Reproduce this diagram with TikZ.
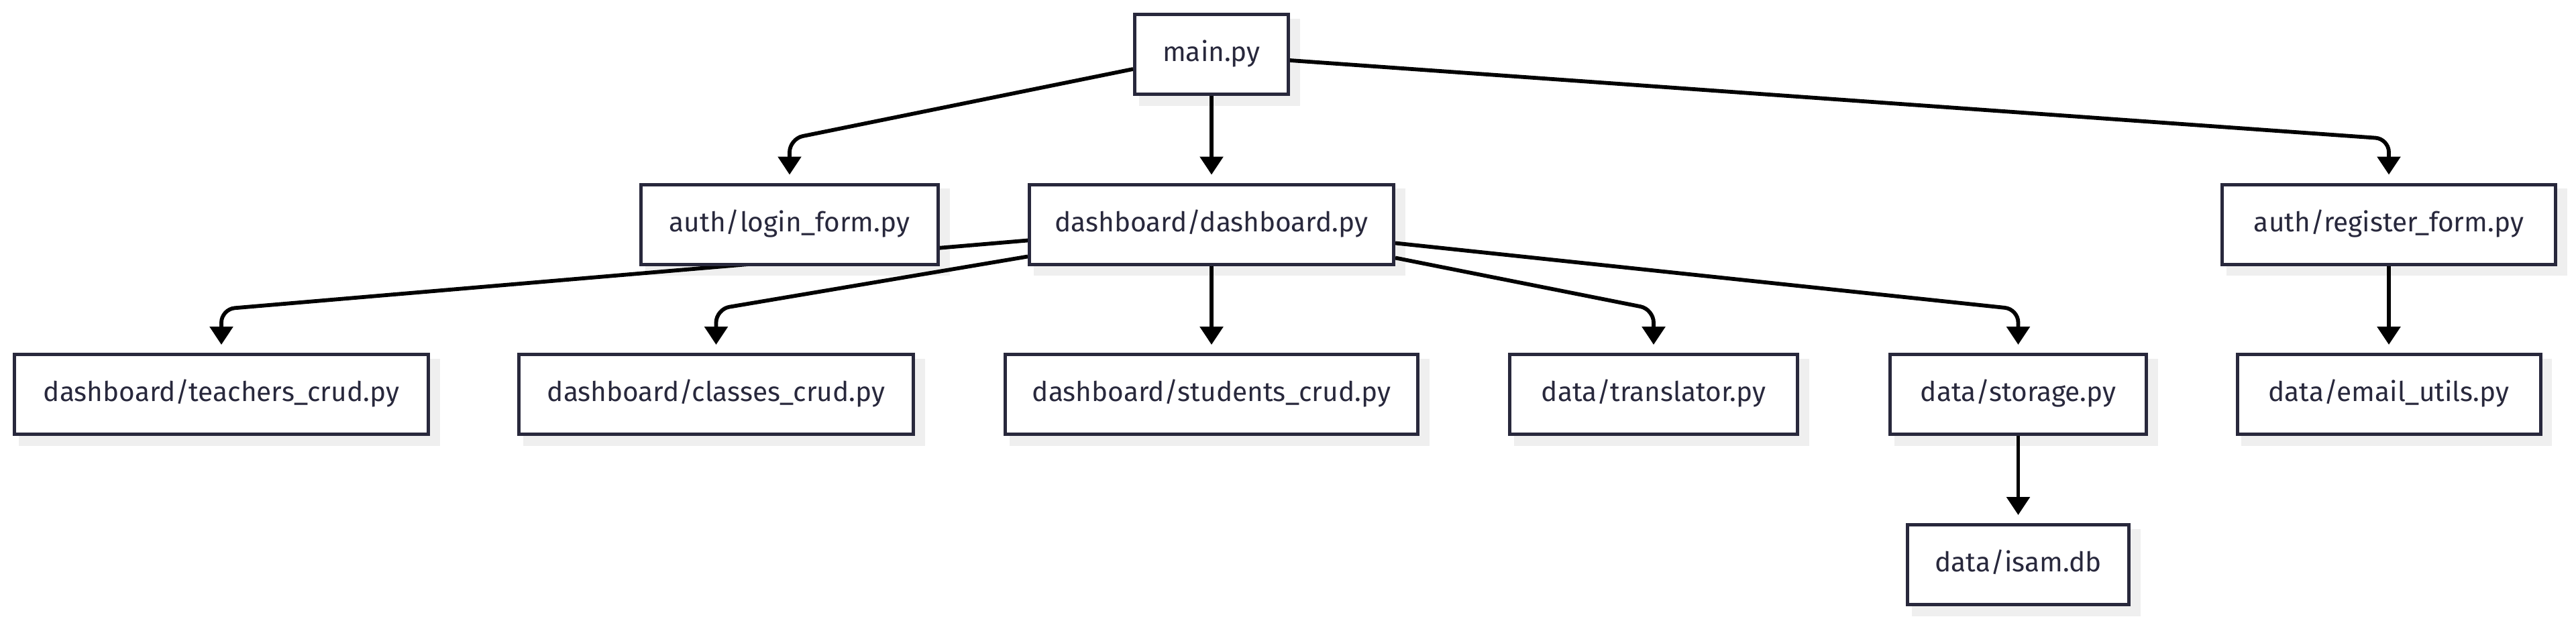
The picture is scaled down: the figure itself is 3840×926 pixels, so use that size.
\documentclass[tikz,border=0pt]{standalone}
\usepackage{fontspec}
\setmainfont{Fira Sans}
\usetikzlibrary{arrows.meta,calc}
\definecolor{ink}{HTML}{28283C}
\definecolor{shadowgrey}{HTML}{EFEFEF}
\pgfdeclarelayer{bglayer}
\pgfdeclarelayer{shadowlayer}
\pgfdeclarelayer{edgelayer}
\pgfsetlayers{bglayer,shadowlayer,edgelayer,main}
\tikzset{
  box/.style={draw=ink, line width=2.5pt, fill=white, text=ink, inner sep=0pt,
    minimum height=59.5pt, font=\fontsize{20.3}{24}\selectfont, text height=10.5pt, text depth=0pt},
  edge/.style={draw=black, line width=2.9pt, -{Triangle[length=13.5pt,width=17pt]}, shorten >=6pt},
  bent/.style={edge, rounded corners=10pt},
}
\begin{document}
\begin{tikzpicture}[x=0.5pt,y=-0.5pt]
\begin{pgfonlayer}{bglayer}
\fill[white] (0,0) rectangle (3840,926);
\end{pgfonlayer}
\useasboundingbox (0,0) rectangle (3840,926);
% row 0
\node[box, minimum width=114.5pt] (main) at (1806,81) {main.py};
% row 1
\node[box, minimum width=221.5pt] (login) at (1177,334.5) {auth/login\_form.py};
\node[box, minimum width=271.5pt] (dash) at (1806,334.5) {dashboard/dashboard.py};
\node[box, minimum width=248.5pt] (register) at (3561,334.5) {auth/register\_form.py};
% row 2
\node[box, minimum width=308.5pt] (teachers) at (330,588) {dashboard/teachers\_crud.py};
\node[box, minimum width=294pt] (classes) at (1067.5,588) {dashboard/classes\_crud.py};
\node[box, minimum width=307.5pt] (students) at (1806,588) {dashboard/students\_crud.py};
\node[box, minimum width=214.5pt] (translator) at (2465,588) {data/translator.py};
\node[box, minimum width=191pt] (storage) at (3008.5,588) {data/storage.py};
\node[box, minimum width=226pt] (email) at (3561,588) {data/email\_utils.py};
% row 3
\node[box, minimum width=165pt] (isam) at (3008.5,842) {data/isam.db};

\begin{pgfonlayer}{shadowlayer}
\foreach \n in {main,login,dash,register,teachers,classes,students,translator,storage,email,isam}
  \fill[shadowgrey] ($(\n.south west)+(8.5,14.5)$) rectangle ($(\n.north east)+(14.5,8.5)$);
\end{pgfonlayer}

\begin{pgfonlayer}{edgelayer}
\draw[bent] ($(main.west)+(0,22)$) -- (login.north |- 0,207) -- (login.north);
\draw[edge] (main.south) -- (dash.north);
\draw[bent] ($(main.east)+(0,9)$) -- (register.north |- 0,207) -- (register.north);
\draw[bent] ($(dash.west)+(0,24)$) -- (teachers.north |- 0,461) -- (teachers.north);
\draw[bent] ($(dash.west)+(0,48)$) -- (classes.north |- 0,461) -- (classes.north);
\draw[edge] (dash.south) -- (students.north);
\draw[bent] ($(dash.east)+(0,50)$) -- (translator.north |- 0,461) -- (translator.north);
\draw[bent] ($(dash.east)+(0,28)$) -- (storage.north |- 0,461) -- (storage.north);
\draw[edge] (storage.south) -- (isam.north);
\draw[edge] (register.south) -- (email.north);
\end{pgfonlayer}
\end{tikzpicture}
\end{document}
